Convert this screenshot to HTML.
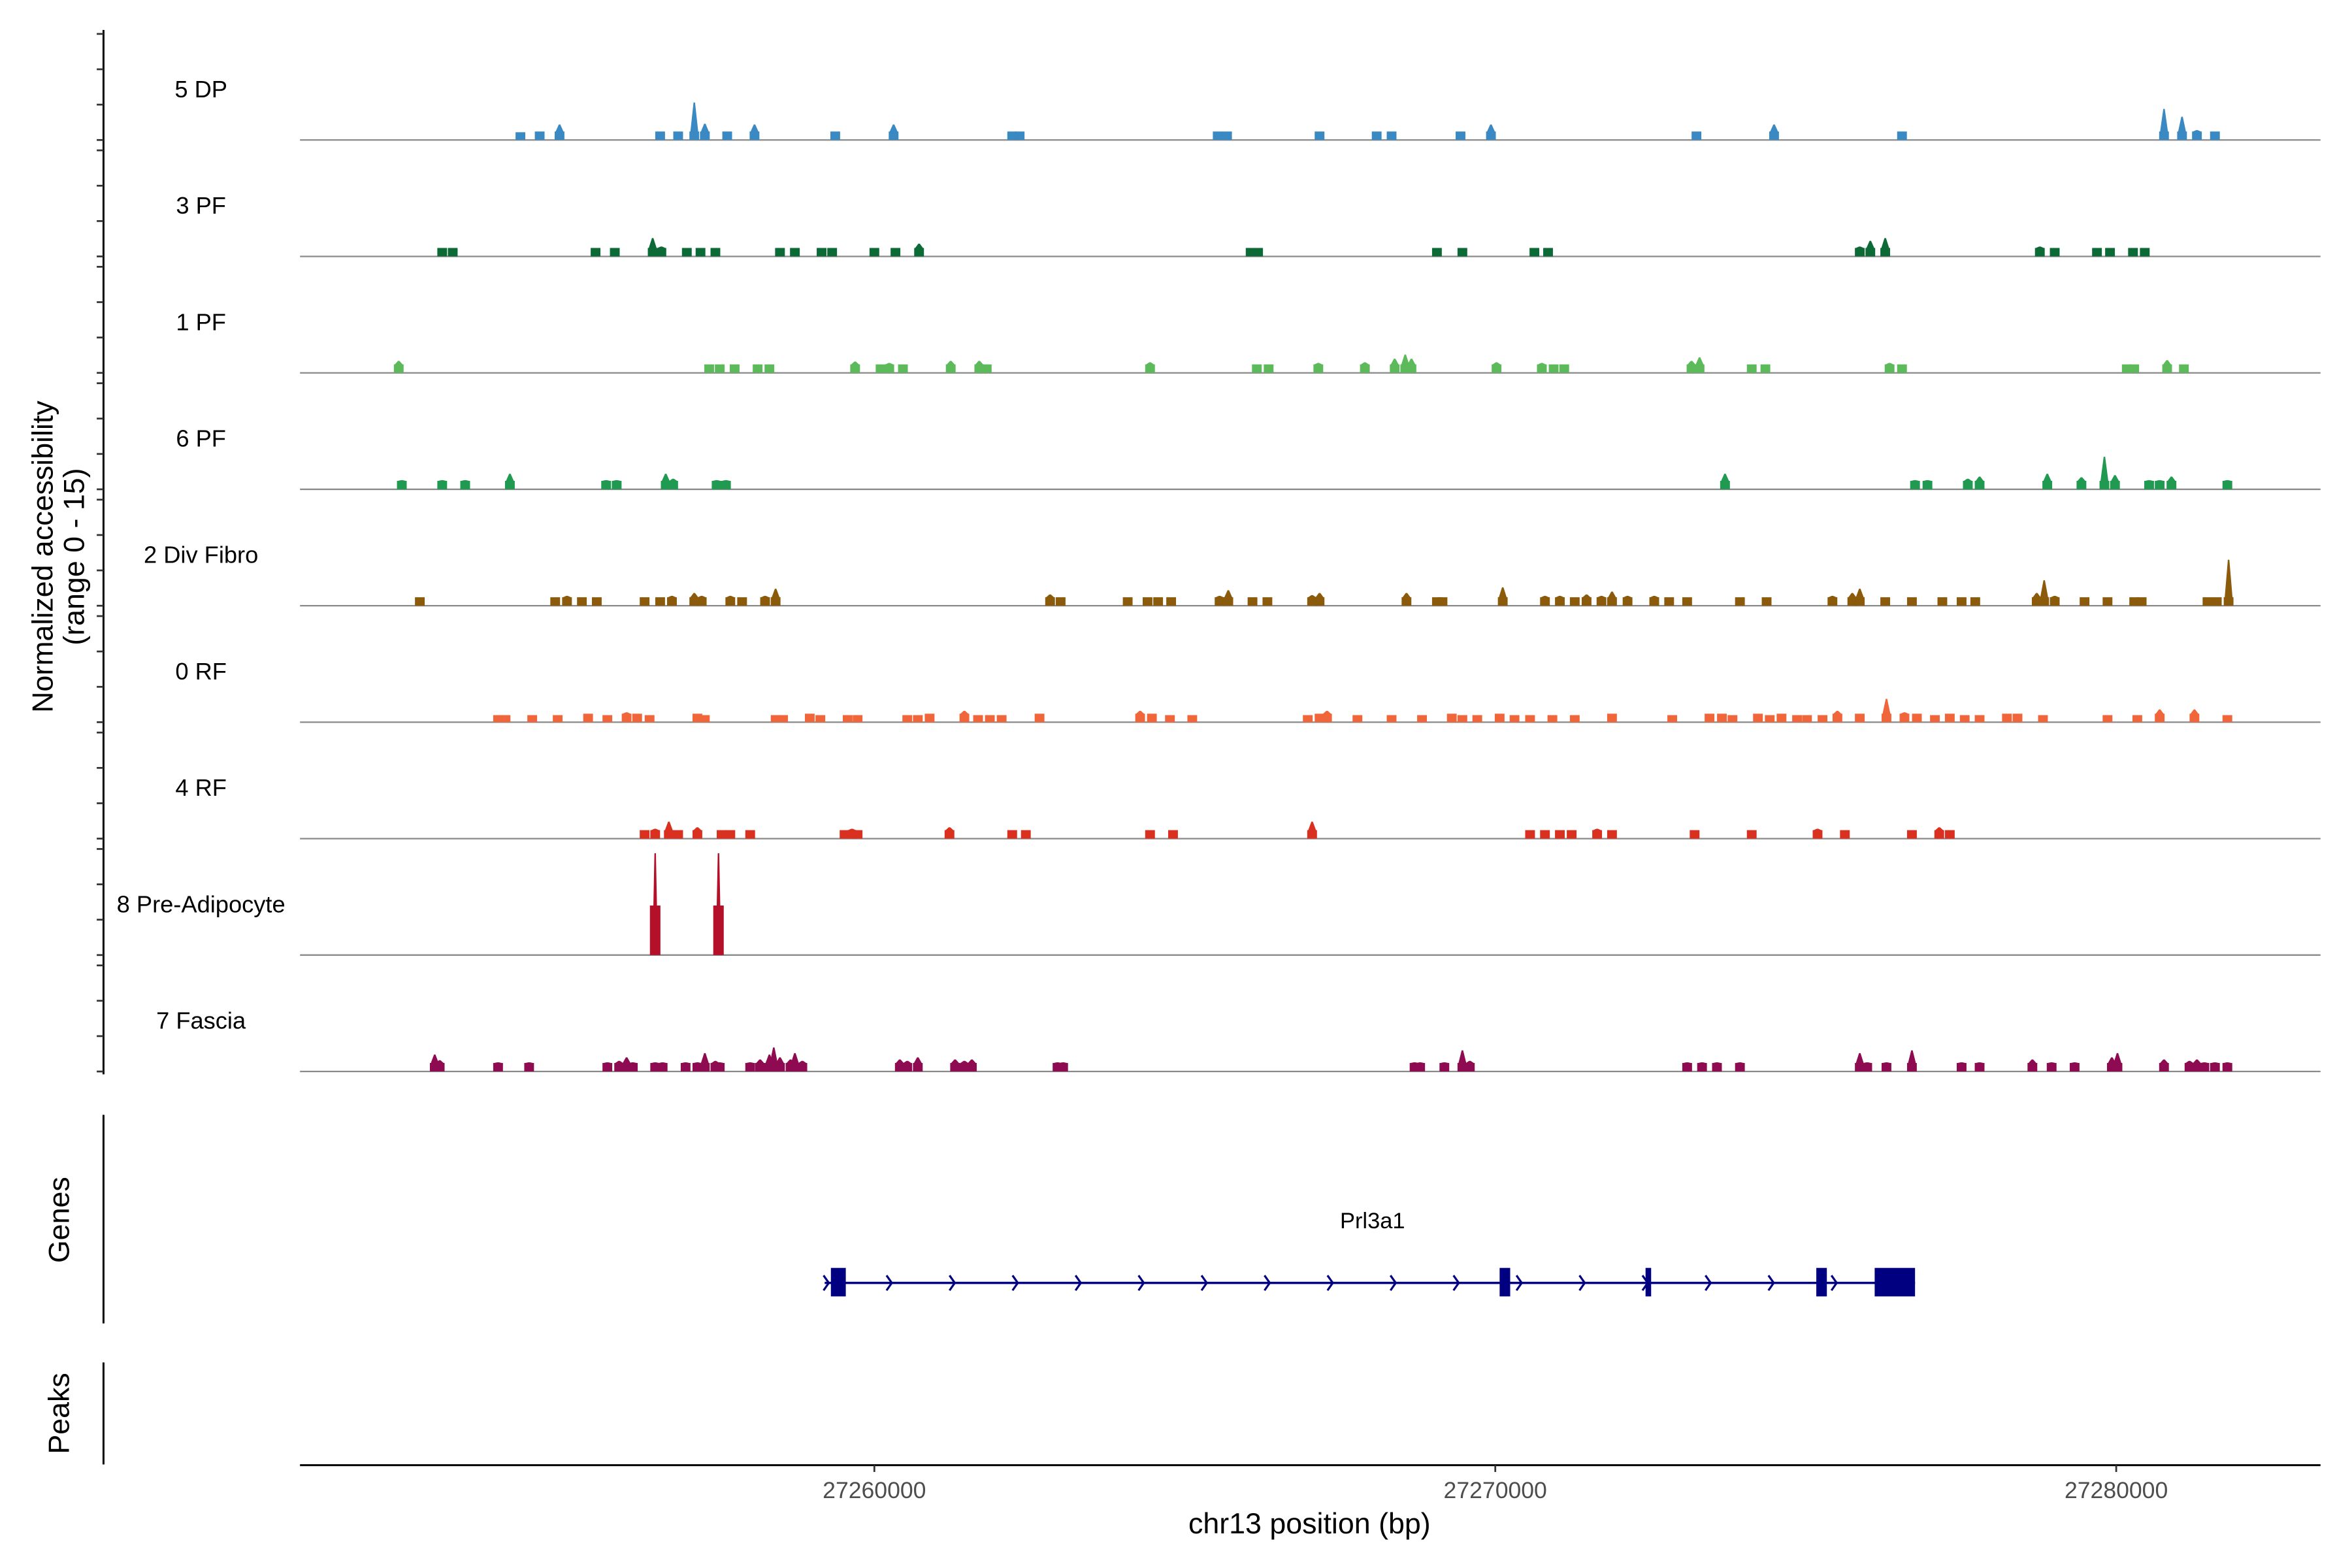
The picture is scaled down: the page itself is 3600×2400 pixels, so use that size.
<!DOCTYPE html>
<html><head><meta charset="utf-8">
<style>
html,body{margin:0;padding:0;background:#fff;}
svg{display:block;font-family:"Liberation Sans",Arial,sans-serif;}
</style></head>
<body>
<svg id="chart" width="3600" height="2400" viewBox="0 0 1568 1045" preserveAspectRatio="none" xmlns="http://www.w3.org/2000/svg"></svg>
<script>
// ---- data (positions in kb, heights in normalized accessibility units) ----
const trackNames = ["5 DP","3 PF","1 PF","6 PF","2 Div Fibro","0 RF","4 RF","8 Pre-Adipocyte","7 Fascia"];
const trackColors = ["#3a89c2","#0b6a35","#5cba5a","#1f9a50","#8b5a0b","#f0663a","#d9301f","#b4102a","#8e0b52"];
const xRange = [27250.75, 27283.29];
const xTicks = [27260, 27270, 27280];
const xTickLabels = ["27260000","27270000","27280000"];

const peaksDP = [[27254.30,1.1],[27254.61,1.2],[27254.93,2.2],[27256.55,1.2],[27256.84,1.2],[27257.10,5.3],[27257.27,2.3],[27257.63,1.2],[27258.07,2.2],[27259.37,1.2],[27260.31,2.2],[27262.22,1.2],[27262.34,1.2],[27265.53,1.2],[27265.68,1.2],[27267.17,1.2],[27268.09,1.2],[27268.33,1.2],[27269.44,1.2],[27269.93,2.2],[27273.24,1.2],[27274.49,2.2],[27276.55,1.2],[27280.77,4.4],[27281.06,3.3],[27281.30,1.4],[27281.59,1.2]];
const peaksPF3 = [[27253.04,1.2],[27253.21,1.2],[27255.51,1.2],[27255.82,1.2],[27256.43,2.6],[27256.57,1.4],[27256.98,1.2],[27257.20,1.2],[27257.44,1.2],[27258.48,1.2],[27258.72,1.2],[27259.15,1.2],[27259.32,1.2],[27260.00,1.2],[27260.34,1.2],[27260.72,1.8],[27266.06,1.2],[27266.18,1.2],[27269.06,1.2],[27269.47,1.2],[27270.63,1.2],[27270.85,1.2],[27275.87,1.4],[27276.04,2.2],[27276.28,2.6],[27278.77,1.4],[27279.01,1.2],[27279.69,1.2],[27279.90,1.2],[27280.27,1.2],[27280.46,1.2]];
const peaksPF1 = [[27252.34,1.7],[27257.34,1.2],[27257.51,1.2],[27257.75,1.2],[27258.12,1.2],[27258.31,1.2],[27259.69,1.6],[27260.10,1.2],[27260.24,1.4],[27260.46,1.2],[27261.23,1.7],[27261.69,1.7],[27261.81,1.2],[27264.44,1.5],[27266.16,1.2],[27266.35,1.2],[27267.15,1.4],[27267.90,1.5],[27268.38,2.0],[27268.55,2.6],[27268.65,2.0],[27270.02,1.5],[27270.75,1.4],[27270.94,1.2],[27271.11,1.2],[27273.16,1.7],[27273.29,2.2],[27274.13,1.2],[27274.35,1.2],[27276.35,1.4],[27276.55,1.2],[27280.17,1.2],[27280.29,1.2],[27280.82,1.8],[27281.09,1.2]];
const peaksPF6 = [[27252.39,1.3],[27253.04,1.3],[27253.41,1.3],[27254.13,2.2],[27255.68,1.3],[27255.85,1.3],[27256.64,2.2],[27256.76,1.5],[27257.46,1.3],[27257.61,1.3],[27273.70,2.2],[27276.76,1.3],[27276.96,1.3],[27277.61,1.5],[27277.80,1.8],[27278.89,2.2],[27279.44,1.7],[27279.81,4.6],[27279.98,2.0],[27280.53,1.3],[27280.70,1.3],[27280.89,1.8],[27281.79,1.3]];
const peaksDiv = [[27252.68,1.2],[27254.86,1.2],[27255.05,1.4],[27255.29,1.2],[27255.53,1.2],[27256.30,1.2],[27256.55,1.2],[27256.74,1.4],[27257.10,1.8],[27257.22,1.4],[27257.68,1.4],[27257.87,1.2],[27258.24,1.4],[27258.41,2.4],[27262.83,1.6],[27263.00,1.2],[27264.08,1.2],[27264.40,1.2],[27264.57,1.2],[27264.78,1.2],[27265.56,1.4],[27265.70,2.2],[27266.09,1.2],[27266.33,1.2],[27267.05,1.5],[27267.17,1.8],[27268.57,1.8],[27269.06,1.2],[27269.15,1.2],[27270.12,2.6],[27270.80,1.4],[27271.04,1.4],[27271.28,1.2],[27271.47,1.6],[27271.71,1.4],[27271.88,2.0],[27272.13,1.4],[27272.56,1.4],[27272.80,1.2],[27273.09,1.2],[27273.94,1.2],[27274.37,1.2],[27275.43,1.4],[27275.75,1.8],[27275.87,2.4],[27276.28,1.2],[27276.71,1.2],[27277.20,1.2],[27277.51,1.2],[27277.73,1.2],[27278.72,1.8],[27278.84,3.6],[27279.01,1.4],[27279.49,1.2],[27279.86,1.2],[27280.29,1.2],[27280.41,1.2],[27281.47,1.2],[27281.62,1.2],[27281.81,6.5]];
const peaksRF0 = [[27253.94,1.0],[27254.06,1.0],[27254.49,1.0],[27254.90,1.0],[27255.39,1.2],[27255.70,1.0],[27256.01,1.4],[27256.18,1.2],[27256.38,1.0],[27257.15,1.2],[27257.27,1.0],[27258.41,1.0],[27258.53,1.0],[27258.96,1.2],[27259.13,1.0],[27259.57,1.0],[27259.73,1.0],[27260.53,1.0],[27260.70,1.0],[27260.89,1.2],[27261.45,1.6],[27261.67,1.0],[27261.86,1.0],[27262.05,1.0],[27262.66,1.2],[27264.28,1.6],[27264.47,1.2],[27264.76,1.0],[27265.12,1.0],[27266.98,1.0],[27267.17,1.2],[27267.29,1.6],[27267.78,1.0],[27268.33,1.0],[27268.82,1.0],[27269.30,1.2],[27269.47,1.0],[27269.71,1.0],[27270.07,1.2],[27270.31,1.0],[27270.56,1.0],[27270.92,1.0],[27271.28,1.0],[27271.88,1.2],[27272.85,1.0],[27273.45,1.2],[27273.65,1.2],[27273.82,1.0],[27274.23,1.2],[27274.42,1.0],[27274.61,1.2],[27274.86,1.0],[27275.02,1.0],[27275.27,1.0],[27275.51,1.6],[27275.87,1.2],[27276.30,3.3],[27276.59,1.4],[27276.79,1.2],[27277.08,1.0],[27277.32,1.2],[27277.56,1.0],[27277.80,1.0],[27278.24,1.2],[27278.41,1.2],[27278.82,1.0],[27279.86,1.0],[27280.34,1.0],[27280.70,1.8],[27281.26,1.8],[27281.79,1.0]];
const peaksRF4 = [[27256.30,1.2],[27256.47,1.4],[27256.69,2.4],[27256.84,1.2],[27257.15,1.6],[27257.54,1.2],[27257.68,1.2],[27258.00,1.2],[27259.52,1.2],[27259.64,1.4],[27259.73,1.2],[27261.21,1.6],[27262.22,1.2],[27262.44,1.2],[27264.44,1.2],[27264.81,1.2],[27267.05,2.4],[27270.56,1.2],[27270.80,1.2],[27271.04,1.2],[27271.23,1.2],[27271.64,1.4],[27271.88,1.2],[27273.21,1.2],[27274.13,1.2],[27275.19,1.4],[27275.63,1.2],[27276.71,1.2],[27277.15,1.6],[27277.32,1.2]];
const peaksPreAd = [[27256.47,14.4,7.0],[27257.49,14.4,7.0]];
const peaksFascia = [[27252.92,2.4],[27253.00,1.6],[27253.94,1.3],[27254.44,1.3],[27255.70,1.3],[27255.89,1.5],[27256.01,2.0],[27256.11,1.3],[27256.47,1.3],[27256.59,1.3],[27256.96,1.3],[27257.15,1.3],[27257.27,2.6],[27257.44,1.5],[27257.51,1.3],[27258.00,1.3],[27258.16,1.7],[27258.31,2.4],[27258.38,3.4],[27258.48,2.0],[27258.65,1.7],[27258.72,2.6],[27258.84,1.5],[27260.41,1.7],[27260.53,1.5],[27260.70,2.0],[27261.30,1.7],[27261.45,1.5],[27261.57,1.7],[27262.95,1.3],[27263.04,1.3],[27268.70,1.3],[27268.79,1.3],[27269.18,1.3],[27269.47,3.0],[27269.59,1.5],[27273.09,1.3],[27273.33,1.3],[27273.57,1.3],[27273.94,1.3],[27275.87,2.6],[27275.99,1.3],[27276.30,1.3],[27276.71,3.0],[27277.51,1.3],[27277.80,1.3],[27278.65,1.7],[27278.96,1.3],[27279.33,1.3],[27279.93,2.0],[27280.02,2.6],[27280.77,1.7],[27281.18,1.5],[27281.30,1.7],[27281.42,1.3],[27281.59,1.3],[27281.79,1.3]];
const allPeaks = [peaksDP,peaksPF3,peaksPF1,peaksPF6,peaksDiv,peaksRF0,peaksRF4,peaksPreAd,peaksFascia];

const geneName = "Prl3a1";
const geneSpan = [27259.20, 27276.76];
const geneExons = [[27259.30,27259.54],[27270.07,27270.24],[27272.42,27272.51],[27275.17,27275.34],[27276.11,27276.76]];

// ---- layout ----
const NS = "http://www.w3.org/2000/svg";
const svg = document.getElementById("chart");
const PL = 200, PR = 1547;
const base0 = 93.3, trackStep = 77.6, trackRange = 70.7, yMax = 15;
function xs(kb){ return PL + (kb - xRange[0]) / (xRange[1] - xRange[0]) * (PR - PL); }
function ys(i, v){ return base0 + i*trackStep - v / yMax * trackRange; }
function mk(tag, attrs, parent){
  const e = document.createElementNS(NS, tag);
  for (const k in attrs) e.setAttribute(k, attrs[k]);
  (parent || svg).appendChild(e);
  return e;
}

// left y axis
const yAxis = mk("line",{x1:69,x2:69,y1:20,y2:716,stroke:"#000","stroke-width":1.3});


for (let i=0;i<trackNames.length;i++){
  for (let k=0;k<=3;k++){
    const yy = ys(i, k*5);
    const t = mk("line",{x1:64.5,x2:69,y1:yy,y2:yy,stroke:"#333","stroke-width":1.2});
    
    
  }
}
const yt = mk("text",{transform:"translate(35,371) rotate(-90)","text-anchor":"middle","font-size":19.5,fill:"#000"});


yt.textContent = "Normalized accessibility";
const yt2 = mk("text",{transform:"translate(56,371) rotate(-90)","text-anchor":"middle","font-size":19.5,fill:"#000"});


yt2.textContent = "(range 0 - 15)";

// tracks
for (let i=0;i<trackNames.length;i++){
  const g = mk("g",{});
  
  
  const b = ys(i,0);
  const lab = mk("text",{x:134,y:b-28.5,"text-anchor":"middle","font-size":15.8,fill:"#000"},g);
  
  
  lab.textContent = trackNames[i];
  const bl = mk("line",{x1:PL,x2:PR,y1:b,y2:b,stroke:"#8a8a8a","stroke-width":1},g);
  
  
  for (const p of allPeaks[i]){
    const cx = xs(p[0]), h = p[1];
    const pre = p.length > 2;
    const bh = pre ? p[2] : Math.min(h, 1.2);
    const w = pre ? 7 : 6.5;
    const yb = ys(i,bh), yt3 = ys(i,h);
    const sw = pre ? 1.2 : 2.6;
    const pts = [[cx-w/2,b],[cx-w/2,yb],[cx-(h>bh?sw:w/2),yb],[cx-0.5,yt3],[cx+0.5,yt3],[cx+(h>bh?sw:w/2),yb],[cx+w/2,yb],[cx+w/2,b]];
    const poly = mk("polygon",{points:pts.map(q=>q[0].toFixed(2)+","+q[1].toFixed(2)).join(" "),fill:trackColors[i]},g);
    
    
  }
}

// genes panel
const ga = mk("line",{x1:69,x2:69,y1:743,y2:882,stroke:"#000","stroke-width":1.3});


const gt = mk("text",{transform:"translate(46,813) rotate(-90)","text-anchor":"middle","font-size":19.5,fill:"#000"});


gt.textContent = "Genes";
const gg = mk("g",{});


const gy = 855;
const gl = mk("line",{x1:xs(geneSpan[0]),x2:xs(geneSpan[1]),y1:gy,y2:gy,stroke:"#000080","stroke-width":1.5},gg);


for (let kb = geneSpan[0] + 0.03; kb < geneSpan[1] - 0.6; kb += 1.0145){
  const ax = xs(kb);
  const ch = mk("polyline",{points:`${ax-2},${gy-5} ${ax+1.5},${gy} ${ax-2},${gy+5}`,fill:"none",stroke:"#000080","stroke-width":1.4},gg);
  
  
}
for (const ex of geneExons){
  const r = mk("rect",{x:xs(ex[0]),y:gy-10,width:xs(ex[1])-xs(ex[0]),height:19,fill:"#000080"},gg);
  
  
}
const gn = mk("text",{x:915,y:818.5,"text-anchor":"middle","font-size":15,fill:"#000"},gg);


gn.textContent = geneName;

// peaks panel
const pa = mk("line",{x1:69,x2:69,y1:908,y2:976,stroke:"#000","stroke-width":1.3});


const pt = mk("text",{transform:"translate(46,942) rotate(-90)","text-anchor":"middle","font-size":19.5,fill:"#000"});


pt.textContent = "Peaks";

// x axis
const xa = mk("line",{x1:PL,x2:PR,y1:976.5,y2:976.5,stroke:"#000","stroke-width":1.3});


for (let i=0;i<xTicks.length;i++){
  const tx = xs(xTicks[i]);
  const t = mk("line",{x1:tx,x2:tx,y1:976.5,y2:981,stroke:"#333","stroke-width":1.2});
  
  
  const l = mk("text",{x:tx,y:998.5,"text-anchor":"middle","font-size":15.5,fill:"#4d4d4d"});
  
  
  l.textContent = xTickLabels[i];
}
const xt = mk("text",{x:873,y:1022,"text-anchor":"middle","font-size":19.5,fill:"#000"});


xt.textContent = "chr13 position (bp)";
</script>
</body></html>
